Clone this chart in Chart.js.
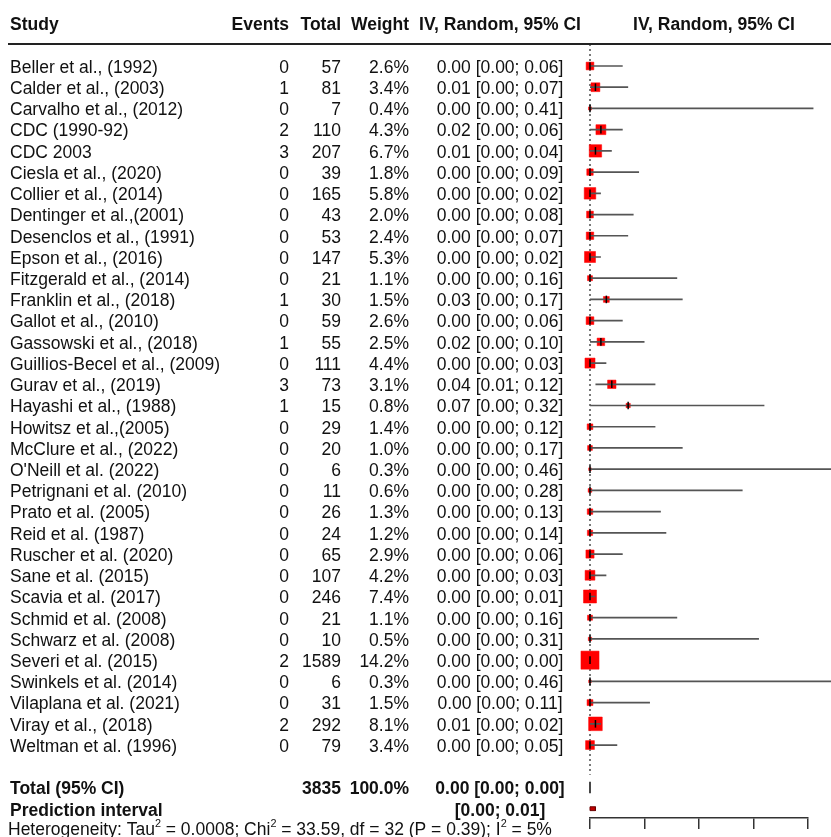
<!DOCTYPE html>
<html>
<head>
<meta charset="utf-8">
<script src="https://cdn.jsdelivr.net/npm/chart.js@4.4.0/dist/chart.umd.min.js"></script>
<style>
  html, body { margin: 0; padding: 0; background: #fff; }
  #wrap { width: 831px; height: 837px; }
</style>
</head>
<body>
<div id="wrap"><canvas id="forest" width="831" height="837"></canvas></div>
<script>
const studies = [
  "Beller et al., (1992)", "Calder et al., (2003)", "Carvalho et al., (2012)", "CDC (1990-92)",
  "CDC 2003", "Ciesla et al., (2020)", "Collier et al., (2014)", "Dentinger et al.,(2001)",
  "Desenclos et al., (1991)", "Epson et al., (2016)", "Fitzgerald et al., (2014)", "Franklin et al., (2018)",
  "Gallot et al., (2010)", "Gassowski et al., (2018)", "Guillios-Becel et al., (2009)", "Gurav et al., (2019)",
  "Hayashi et al., (1988)", "Howitsz et al.,(2005)", "McClure et al., (2022)", "O'Neill et al. (2022)",
  "Petrignani et al. (2010)", "Prato et al. (2005)", "Reid et al. (1987)", "Ruscher et al. (2020)",
  "Sane et al. (2015)", "Scavia et al. (2017)", "Schmid et al. (2008)", "Schwarz et al. (2008)",
  "Severi et al. (2015)", "Swinkels et al. (2014)", "Vilaplana et al. (2021)", "Viray et al., (2018)",
  "Weltman et al. (1996)"
];
const events = [0, 1, 0, 2, 3, 0, 0, 0, 0, 0, 0, 1, 0, 1, 0, 3, 1, 0, 0, 0, 0, 0, 0, 0, 0, 0, 0, 0, 2, 0, 0, 2, 0];
const totals = [57, 81, 7, 110, 207, 39, 165, 43, 53, 147, 21, 30, 59, 55, 111, 73, 15, 29, 20, 6, 11, 26, 24, 65, 107, 246, 21, 10, 1589, 6, 31, 292, 79];
const weights = [2.6, 3.4, 0.4, 4.3, 6.7, 1.8, 5.8, 2.0, 2.4, 5.3, 1.1, 1.5, 2.6, 2.5, 4.4, 3.1, 0.8, 1.4, 1.0, 0.3, 0.6, 1.3, 1.2, 2.9, 4.2, 7.4, 1.1, 0.5, 14.2, 0.3, 1.5, 8.1, 3.4];
const estimates = [0.00, 0.01, 0.00, 0.02, 0.01, 0.00, 0.00, 0.00, 0.00, 0.00, 0.00, 0.03, 0.00, 0.02, 0.00, 0.04, 0.07, 0.00, 0.00, 0.00, 0.00, 0.00, 0.00, 0.00, 0.00, 0.00, 0.00, 0.00, 0.00, 0.00, 0.00, 0.01, 0.00];
const lower = [0.00, 0.00, 0.00, 0.00, 0.00, 0.00, 0.00, 0.00, 0.00, 0.00, 0.00, 0.00, 0.00, 0.00, 0.00, 0.01, 0.00, 0.00, 0.00, 0.00, 0.00, 0.00, 0.00, 0.00, 0.00, 0.00, 0.00, 0.00, 0.00, 0.00, 0.00, 0.00, 0.00];
const upper = [0.06, 0.07, 0.41, 0.06, 0.04, 0.09, 0.02, 0.08, 0.07, 0.02, 0.16, 0.17, 0.06, 0.10, 0.03, 0.12, 0.32, 0.12, 0.17, 0.46, 0.28, 0.13, 0.14, 0.06, 0.03, 0.01, 0.16, 0.31, 0.00, 0.46, 0.11, 0.02, 0.05];

const pooledTotal = 3835;
const pooledCI = [0.00, 0.00, 0.00];      // estimate, lower, upper
const predictionCI = [0.00, 0.01];
const tau2 = "0.0008", chi2 = "33.59", dfHet = 32, pHet = "0.39", i2 = 5;
const xTicks = [0, 0.1, 0.2, 0.3, 0.4];

// row geometry (pixels)
const ROW_H = 21.22, FIRST_ROW = 66, PLOT_TOP = 44, PLOT_BOTTOM = 818;
const TEXT_SHIFT = 2;
const yMin = (PLOT_TOP - FIRST_ROW) / ROW_H;
const yMax = (PLOT_BOTTOM - FIRST_ROW) / ROW_H;
const ROW_TOTAL = studies.length + 1;
const ROW_PRED = ROW_TOTAL + 1;
const ROW_HET = ROW_PRED + 1;

const FONT = '"Liberation Sans", Arial, sans-serif';
const FS = 17.5;
const fmt = v => v.toFixed(2);
const ciText = (e, l, h) => `${fmt(e)} [${fmt(l)}; ${fmt(h)}]`;

// confidence interval segments, broken by null points
const ciSegments = [];
studies.forEach((s, i) => {
  ciSegments.push({ x: lower[i], y: i }, { x: upper[i], y: i }, { x: null, y: null });
});

const diamondH = 0.27;
const diamond = [
  { x: pooledCI[1], y: ROW_TOTAL }, { x: pooledCI[0], y: ROW_TOTAL - diamondH },
  { x: pooledCI[2], y: ROW_TOTAL }, { x: pooledCI[0], y: ROW_TOTAL + diamondH },
  { x: pooledCI[1], y: ROW_TOTAL }
];
const predH = 0.09;
const predBox = [
  { x: predictionCI[0], y: ROW_PRED - predH }, { x: predictionCI[1], y: ROW_PRED - predH },
  { x: predictionCI[1], y: ROW_PRED + predH }, { x: predictionCI[0], y: ROW_PRED + predH },
  { x: predictionCI[0], y: ROW_PRED - predH }
];

const tablePlugin = {
  id: 'tableText',
  afterDraw(chart) {
    const ctx = chart.ctx;
    const y = chart.scales.y;
    const rowY = r => y.getPixelForValue(r) + TEXT_SHIFT;
    const cols = { study: 10, events: 289, total: 341, weight: 409, ci: 500, plotHead: 714 };
    ctx.save();
    ctx.fillStyle = '#111';
    ctx.textBaseline = 'middle';

    // header
    const hy = rowY(-2);
    ctx.font = `bold ${FS}px ${FONT}`;
    ctx.textAlign = 'left';   ctx.fillText('Study', cols.study, hy);
    ctx.textAlign = 'right';  ctx.fillText('Events', cols.events, hy);
    ctx.fillText('Total', cols.total, hy);
    ctx.fillText('Weight', cols.weight, hy);
    ctx.textAlign = 'center'; ctx.fillText('IV, Random, 95% CI', cols.ci, hy);
    ctx.fillText('IV, Random, 95% CI', cols.plotHead, hy);

    ctx.strokeStyle = '#222';
    ctx.lineWidth = 2;
    ctx.beginPath();
    ctx.moveTo(8, PLOT_TOP);
    ctx.lineTo(chart.width, PLOT_TOP);
    ctx.stroke();

    // study rows
    ctx.font = `${FS}px ${FONT}`;
    studies.forEach((s, i) => {
      const py = rowY(i);
      ctx.textAlign = 'left';   ctx.fillText(s, cols.study, py);
      ctx.textAlign = 'right';  ctx.fillText(String(events[i]), cols.events, py);
      ctx.fillText(String(totals[i]), cols.total, py);
      ctx.fillText(weights[i].toFixed(1) + '%', cols.weight, py);
      ctx.textAlign = 'center'; ctx.fillText(ciText(estimates[i], lower[i], upper[i]), cols.ci, py);
    });

    // pooled rows
    ctx.font = `bold ${FS}px ${FONT}`;
    let py = rowY(ROW_TOTAL);
    ctx.textAlign = 'left';   ctx.fillText('Total (95% CI)', cols.study, py);
    ctx.textAlign = 'right';  ctx.fillText(String(pooledTotal), cols.total, py);
    ctx.fillText('100.0%', cols.weight, py);
    ctx.textAlign = 'center'; ctx.fillText(ciText(pooledCI[0], pooledCI[1], pooledCI[2]), cols.ci, py);

    py = rowY(ROW_PRED);
    ctx.textAlign = 'left';   ctx.fillText('Prediction interval', cols.study, py);
    ctx.textAlign = 'center'; ctx.fillText(`[${fmt(predictionCI[0])}; ${fmt(predictionCI[1])}]`, cols.ci, py);

    // heterogeneity line with superscripts
    py = rowY(ROW_HET) - 2;
    const parts = [
      ['Heterogeneity: Tau', false], ['2', true], [` = ${tau2}; Chi`, false], ['2', true],
      [` = ${chi2}, df = ${dfHet} (P = ${pHet}); I`, false], ['2', true], [` = ${i2}%`, false]
    ];
    ctx.textAlign = 'left';
    let x = 8;
    parts.forEach(([t, sup]) => {
      ctx.font = sup ? `${FS * 0.62}px ${FONT}` : `${FS}px ${FONT}`;
      ctx.fillText(t, x, sup ? py - 6 : py);
      x += ctx.measureText(t).width;
    });
    ctx.restore();
  }
};

new Chart(document.getElementById('forest'), {
  type: 'scatter',
  data: {
    datasets: [
      {
        label: 'Pooled',
        data: diamond,
        showLine: true,
        borderColor: '#1a1a1a',
        borderWidth: 1.6,
        pointRadius: 0,
        fill: false,
        clip: false,
        order: 1
      },
      {
        label: 'Prediction interval',
        data: predBox,
        showLine: true,
        borderColor: '#6a0000',
        backgroundColor: '#c00000',
        borderWidth: 1,
        pointRadius: 0,
        fill: 'shape',
        clip: false,
        order: 1
      },
      {
        label: 'Estimate',
        data: estimates.map((e, i) => ({ x: e, y: i })),
        pointStyle: 'line',
        rotation: 90,
        pointRadius: 3.8,
        borderColor: '#000',
        borderWidth: 1.5,
        clip: false,
        order: 2
      },
      {
        label: '95% CI',
        data: ciSegments,
        showLine: true,
        spanGaps: false,
        borderColor: '#555',
        borderWidth: 1.7,
        pointRadius: 0,
        clip: false,
        order: 3
      },
      {
        label: 'Weight',
        data: estimates.map((e, i) => ({ x: e, y: i })),
        pointStyle: 'rect',
        pointRadius: weights.map(w => 4.8 * Math.sqrt(w) / Math.SQRT2),
        backgroundColor: 'rgb(255,0,0)',
        borderColor: 'rgb(255,0,0)',
        borderWidth: 0.5,
        clip: false,
        order: 4
      },
      {
        label: 'No effect',
        data: [{ x: 0, y: yMin }, { x: 0, y: 33.4 }],
        showLine: true,
        borderColor: '#333',
        borderWidth: 1.3,
        borderDash: [2, 3],
        pointRadius: 0,
        clip: false,
        order: 5
      }
    ]
  },
  options: {
    responsive: false,
    animation: false,
    devicePixelRatio: 1,
    layout: { padding: { left: 590, right: 23, top: PLOT_TOP, bottom: 0 } },
    plugins: {
      legend: { display: false },
      tooltip: { enabled: false }
    },
    scales: {
      x: {
        type: 'linear',
        min: xTicks[0],
        max: xTicks[xTicks.length - 1],
        afterBuildTicks: s => { s.ticks = xTicks.map(v => ({ value: v })); },
        afterFit: s => { s.height = 837 - PLOT_BOTTOM; },
        ticks: { display: false },
        grid: { drawOnChartArea: false, drawTicks: true, tickLength: 11, color: '#333', lineWidth: 1.5 },
        border: { display: true, color: '#333', width: 1.5 }
      },
      y: {
        type: 'linear',
        display: false,
        reverse: true,
        min: yMin,
        max: yMax
      }
    }
  },
  plugins: [tablePlugin]
});
</script>
</body>
</html>
